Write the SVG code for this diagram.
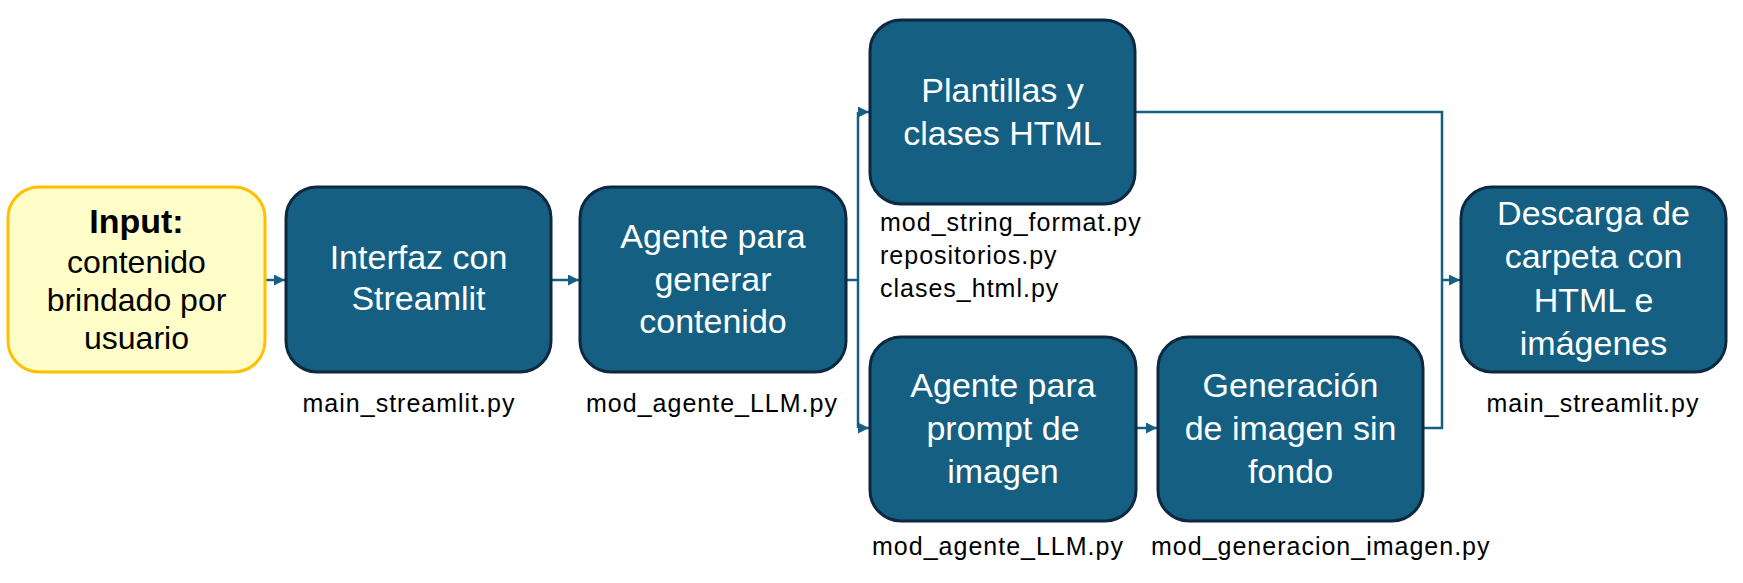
<svg xmlns="http://www.w3.org/2000/svg" width="1743" height="583" viewBox="0 0 1743 583">
<style>
.box{fill:#156082;stroke:#0E2841;stroke-width:3}
.inp{fill:#FFFDC8;stroke:#FFC000;stroke-width:3}
.bt{font-family:"Liberation Sans",Arial,sans-serif;font-size:34px;fill:#FFFFFF;text-anchor:middle}
.it{font-family:"Liberation Sans",Arial,sans-serif;font-size:32px;fill:#000000;text-anchor:middle}
.lb{font-family:"Liberation Sans",Arial,sans-serif;font-size:25px;letter-spacing:1px;fill:#000000}
.c{fill:none;stroke:#156082;stroke-width:2.5}
</style>
<defs>
<marker id="ah" viewBox="0 0 10 10" refX="10" refY="5" markerUnits="userSpaceOnUse" markerWidth="11" markerHeight="11" orient="auto">
<path d="M0,0 L10,5 L0,10 z" fill="#156082"/>
</marker>
</defs>
<rect width="1743" height="583" fill="#FFFFFF"/>
<g id="connectors">
<path class="c" d="M265,280 H285" marker-end="url(#ah)"/>
<path class="c" d="M551,280 H579" marker-end="url(#ah)"/>
<path class="c" d="M846,280 H858 M858,112 V428"/>
<path class="c" d="M858,112 H869" marker-end="url(#ah)"/>
<path class="c" d="M858,428 H869" marker-end="url(#ah)"/>
<path class="c" d="M1136,428 H1157" marker-end="url(#ah)"/>
<path class="c" d="M1135,112 H1442 V428 H1423"/>
<path class="c" d="M1442,280 H1460" marker-end="url(#ah)"/>
</g>
<g id="input">
<rect class="inp" x="8" y="187" width="257" height="185" rx="31"/>
<text x="136.5" y="233" class="it" style="font-weight:bold;font-size:34px">Input:</text>
<text x="136.5" y="273" class="it">contenido</text>
<text x="136.5" y="311" class="it">brindado por</text>
<text x="136.5" y="349" class="it">usuario</text>
</g>
<g id="interfaz">
<rect class="box" x="286" y="187" width="265" height="185" rx="31"/>
<text x="418.5" y="269" class="bt">Interfaz con</text>
<text x="418.5" y="310" class="bt">Streamlit</text>
<text x="409" y="412" class="lb" text-anchor="middle">main_streamlit.py</text>
</g>
<g id="agente_contenido">
<rect class="box" x="580" y="187" width="266" height="185" rx="31"/>
<text x="713" y="248" class="bt">Agente para</text>
<text x="713" y="291" class="bt">generar</text>
<text x="713" y="333" class="bt">contenido</text>
<text x="712" y="412" class="lb" text-anchor="middle">mod_agente_LLM.py</text>
</g>
<g id="plantillas">
<rect class="box" x="870" y="20" width="265" height="184" rx="31"/>
<text x="1002.5" y="102" class="bt">Plantillas y</text>
<text x="1002.5" y="145" class="bt">clases HTML</text>
<text x="880" y="231" class="lb">mod_string_format.py</text>
<text x="880" y="264" class="lb">repositorios.py</text>
<text x="880" y="297" class="lb">clases_html.py</text>
</g>
<g id="agente_prompt">
<rect class="box" x="870" y="337" width="266" height="184" rx="31"/>
<text x="1003" y="397" class="bt">Agente para</text>
<text x="1003" y="440" class="bt">prompt de</text>
<text x="1003" y="483" class="bt">imagen</text>
<text x="998" y="555" class="lb" text-anchor="middle">mod_agente_LLM.py</text>
</g>
<g id="generacion">
<rect class="box" x="1158" y="337" width="265" height="184" rx="31"/>
<text x="1290.5" y="397" class="bt">Generación</text>
<text x="1290.5" y="440" class="bt">de imagen sin</text>
<text x="1290.5" y="483" class="bt">fondo</text>
<text x="1151" y="555" class="lb">mod_generacion_imagen.py</text>
</g>
<g id="descarga">
<rect class="box" x="1461" y="187" width="265" height="185" rx="31"/>
<text x="1593.5" y="225" class="bt">Descarga de</text>
<text x="1593.5" y="268" class="bt">carpeta con</text>
<text x="1593.5" y="312" class="bt">HTML e</text>
<text x="1593.5" y="355" class="bt">imágenes</text>
<text x="1593" y="412" class="lb" text-anchor="middle">main_streamlit.py</text>
</g>
</svg>
